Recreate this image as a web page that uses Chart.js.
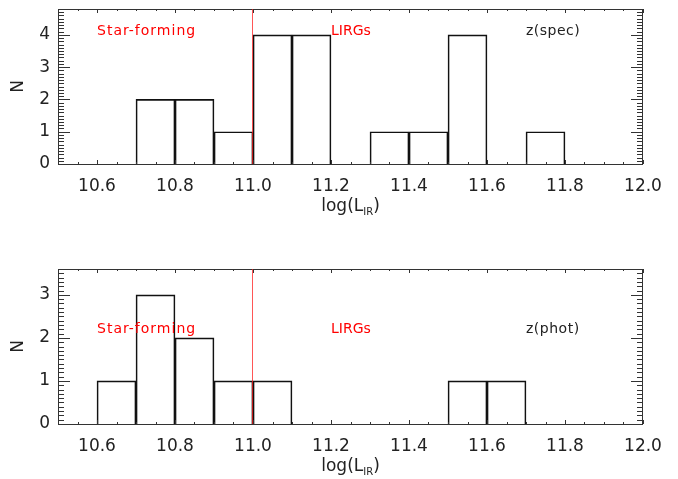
<!DOCTYPE html>
<html>
<head>
<meta charset="utf-8">
<script src="https://cdn.jsdelivr.net/npm/chart.js@4/dist/chart.umd.min.js"></script>
<style>
  html, body { margin: 0; padding: 0; background: #fff; }
  canvas { display: block; }
</style>
</head>
<body>
<canvas id="specChart" width="678" height="240"></canvas>
<canvas id="photChart" width="678" height="239"></canvas>
<script>
// histogram bins (centres, width 0.1 in log L_IR)
const binCenters = [10.55, 10.65, 10.75, 10.85, 10.95, 11.05, 11.15, 11.25, 11.35, 11.45, 11.55, 11.65, 11.75, 11.85, 11.95];
const specCounts = [0, 0, 2, 2, 1, 4, 4, 0, 1, 1, 4, 0, 1, 0, 0];
const photCounts = [0, 1, 3, 2, 1, 1, 0, 0, 0, 0, 1, 1, 0, 0, 0];

// axes
const xRange = [10.5, 12.0];
const xTickValues = [10.6, 10.8, 11.0, 11.2, 11.4, 11.6, 11.8, 12.0];
const specYTicks = [0, 1, 2, 3, 4];
const photYTicks = [0, 1, 2, 3];

// annotations
const lirgLimit = 11.0;
const regionLabels = ['Star-forming', 'LIRGs'];
const regionLabelX = [10.60, 11.20];
const sampleLabelX = 11.70;

const FONT = '"DejaVu Sans", "Liberation Sans", sans-serif';
const INK = '#222';
const RED = 'rgb(255, 0, 0)';

/**
 * Draws the IDL-style frame: box, inward ticks on all sides, LIRG limit,
 * region labels and axis titles.
 */
const framePlugin = {
  id: 'frame',
  afterDraw(chart, args, opts) {
    const { ctx, chartArea: a, scales } = chart;
    const xs = scales.x;
    const ys = scales.y;
    ctx.save();

    // box
    ctx.strokeStyle = '#333';
    ctx.lineWidth = 1;
    ctx.strokeRect(a.left + 0.5, a.top + 0.5, a.right - a.left - 1, a.bottom - a.top);

    // x ticks, minor every 0.05, major every 0.2
    ctx.beginPath();
    for (let i = 0; i <= 30; i++) {
      const v = xRange[0] + i * 0.05;
      const px = Math.round(xs.getPixelForValue(v)) + 0.5;
      const major = xTickValues.some((t) => Math.abs(t - v) < 1e-6);
      const len = major ? 4 : 2;
      ctx.moveTo(px, a.bottom);
      ctx.lineTo(px, a.bottom - len);
      ctx.moveTo(px, a.top);
      ctx.lineTo(px, a.top + len);
    }
    // y ticks, minor every 0.1, major every 1
    const nMinor = Math.round(ys.max * 10);
    for (let i = 0; i <= nMinor; i++) {
      const v = i / 10;
      const py = Math.round(ys.getPixelForValue(v)) + 0.5;
      const len = i % 10 === 0 ? 12 : 6;
      ctx.moveTo(a.left, py);
      ctx.lineTo(a.left + len, py);
      ctx.moveTo(a.right, py);
      ctx.lineTo(a.right - len, py);
    }
    ctx.stroke();

    // LIRG limit
    const xl = Math.round(xs.getPixelForValue(lirgLimit)) - 0.5;
    ctx.strokeStyle = 'rgba(255, 30, 30, 0.75)';
    ctx.beginPath();
    ctx.moveTo(xl, a.top);
    ctx.lineTo(xl, a.bottom);
    ctx.stroke();

    // region labels
    ctx.font = '14px ' + FONT;
    ctx.textBaseline = 'middle';
    ctx.textAlign = 'left';
    const ly = ys.getPixelForValue(opts.labelY);
    ctx.fillStyle = RED;
    regionLabels.forEach((txt, i) => {
      ctx.letterSpacing = i === 0 ? '1px' : '0px';
      ctx.fillText(txt, xs.getPixelForValue(regionLabelX[i]), ly);
    });
    ctx.letterSpacing = '0.5px';
    ctx.fillStyle = INK;
    ctx.fillText(opts.sample, xs.getPixelForValue(sampleLabelX), ly);
    ctx.letterSpacing = '0px';

    // y title
    ctx.font = '17px ' + FONT;
    ctx.textAlign = 'center';
    ctx.save();
    ctx.translate(19, (a.top + a.bottom) / 2);
    ctx.rotate(-Math.PI / 2);
    ctx.fillText('N', 0, 0);
    ctx.restore();

    // x title: log(L_IR)
    const ty = a.bottom + 43;
    const cx = (a.left + a.right) / 2;
    ctx.textAlign = 'left';
    const big = '17px ' + FONT;
    const small = '10px ' + FONT;
    ctx.font = big;
    const w1 = ctx.measureText('log(L').width;
    const w3 = ctx.measureText(')').width;
    ctx.font = small;
    const w2 = ctx.measureText('IR').width;
    const x0 = cx - (w1 + w2 + w3) / 2;
    ctx.font = big;
    ctx.fillText('log(L', x0, ty);
    ctx.font = small;
    ctx.fillText('IR', x0 + w1, ty + 5);
    ctx.font = big;
    ctx.fillText(')', x0 + w1 + w2, ty);

    ctx.restore();
  },
};

/**
 * Build one histogram panel
 * @param {string} canvasId - canvas element id
 * @param {number[]} counts - histogram counts per bin
 * @param {number[]} yTicks - labelled y ticks
 * @param {Object} layout - panel layout/annotation options
 */
const buildPanel = (canvasId, counts, yTicks, layout) => {
  return new Chart(document.getElementById(canvasId), {
    type: 'bar',
    data: {
      datasets: [{
        data: binCenters.map((x, i) => ({ x, y: counts[i] })),
        backgroundColor: 'rgba(0,0,0,0)',
        borderColor: '#111',
        borderWidth: 1,
        barPercentage: 1,
        categoryPercentage: 1,
      }],
    },
    options: {
      responsive: false,
      animation: false,
      events: [],
      layout: { padding: { top: layout.padTop, right: 35, left: 0, bottom: 0 } },
      plugins: {
        legend: { display: false },
        tooltip: { enabled: false },
        frame: { labelY: layout.labelY, sample: layout.sample },
      },
      scales: {
        x: {
          type: 'linear',
          offset: false,
          min: xRange[0],
          max: xRange[1],
          grid: { display: false, drawTicks: false },
          border: { display: false },
          afterBuildTicks: (scale) => {
            scale.ticks = xTickValues.map((value) => ({ value }));
          },
          afterFit: (scale) => {
            scale.height = layout.xAxisHeight;
            scale.paddingLeft = 0;
            scale.paddingRight = 0;
          },
          ticks: {
            autoSkip: false,
            maxRotation: 0,
            padding: 12,
            color: INK,
            font: { family: FONT, size: 17 },
            callback: (v) => Number(v).toFixed(1),
          },
        },
        y: {
          min: 0,
          max: layout.yMax,
          grid: { display: false, drawTicks: false },
          border: { display: false },
          afterBuildTicks: (scale) => {
            scale.ticks = yTicks.map((value) => ({ value }));
          },
          afterFit: (scale) => {
            scale.width = 58;
            scale.paddingTop = 0;
            scale.paddingBottom = 0;
          },
          ticks: {
            padding: 8,
            color: INK,
            font: { family: FONT, size: 17 },
          },
        },
      },
    },
    plugins: [framePlugin],
  });
};

buildPanel('specChart', specCounts, specYTicks, {
  yMax: 4.8, padTop: 9, xAxisHeight: 76, labelY: 4.12, sample: 'z(spec)',
});
buildPanel('photChart', photCounts, photYTicks, {
  yMax: 3.6, padTop: 29, xAxisHeight: 55, labelY: 2.2, sample: 'z(phot)',
});
</script>
</body>
</html>
